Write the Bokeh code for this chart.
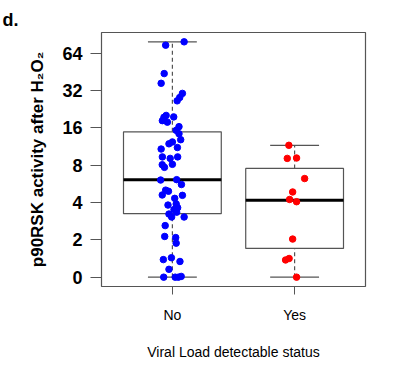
from bokeh.plotting import figure
from bokeh.models import Range1d, FixedTicker, ColumnDataSource, Title
from bokeh.embed import file_html
from bokeh.resources import INLINE

# ---- data (y in axis units: 0 -> "0", 1 -> "2", 2 -> "4", ... 6 -> "64") ----
categories = ["No", "Yes"]
cat_pos = [1, 2]
y_tick_pos = [0, 1, 2, 3, 4, 5, 6]
y_tick_labels = ["0", "2", "4", "8", "16", "32", "64"]

# box statistics
box_low = [0.0, 0.0]
box_q1 = [1.70, 0.77]
box_med = [2.61, 2.06]
box_q3 = [3.89, 2.91]
box_high = [6.30, 3.53]

no_values = [6.21, 6.30, 5.45, 5.19, 4.92, 4.81, 4.72, 4.33, 4.28, 4.19, 4.15, 4.29,
             4.03, 3.93, 3.84, 3.68, 3.62, 3.57, 3.43, 3.47, 3.22, 3.18, 3.22, 3.01,
             2.94, 3.02, 2.60, 2.61, 2.48, 2.33, 2.30, 2.20, 2.19, 2.11, 1.93, 1.96,
             1.86, 1.81, 1.69, 1.74, 1.61, 1.61, 1.38, 1.09, 1.06, 0.91, 0.47, 0.52,
             0.42, 0.21, 0.0, 0.0, 0.0, 0.02]
no_jitter = [-0.055, 0.096, -0.067, -0.092, 0.082, 0.060, 0.039, -0.051, -0.069, -0.082,
             -0.041, 0.011, 0.054, 0.031, 0.054, 0.068, 0.0, -0.028, -0.092, 0.041,
             -0.082, -0.018, 0.043, -0.083, -0.065, 0.0, -0.096, 0.035, 0.074, -0.055,
             -0.032, -0.083, 0.082, 0.019, -0.036, 0.031, 0.043, 0.013, -0.028, 0.035,
             -0.006, 0.096, -0.059, -0.063, 0.027, 0.031, -0.074, -0.008, 0.062, -0.028,
             -0.071, 0.023, 0.049, 0.072]
yes_values = [3.53, 3.18, 3.19, 2.64, 2.28, 2.08, 2.02, 1.02, 0.46, 0.50, 0.0]
yes_jitter = [-0.047, -0.060, 0.016, 0.082, -0.016, -0.041, 0.016, -0.016, -0.074, -0.045, 0.016]

BOX_W = 0.8
CAP_W = 0.4
LINE_COL = "#555555"

p = figure(width=417, height=370, output_backend="svg", toolbar_location=None,
           x_range=Range1d(0.42, 2.58), y_range=Range1d(-0.25, 6.55),
           min_border_left=101, min_border_right=52, min_border_top=32,
           min_border_bottom=84)
p.background_fill_color = "white"
p.border_fill_color = "white"
p.outline_line_color = LINE_COL
p.outline_line_width = 1.2
p.xgrid.grid_line_color = None
p.ygrid.grid_line_color = None

box_src = ColumnDataSource(dict(
    x=cat_pos, low=box_low, q1=box_q1, med=box_med, q3=box_q3, high=box_high,
    left=[c - BOX_W / 2 for c in cat_pos], right=[c + BOX_W / 2 for c in cat_pos],
    cl=[c - CAP_W / 2 for c in cat_pos], cr=[c + CAP_W / 2 for c in cat_pos],
))

# whiskers (dashed)
p.segment(x0="x", y0="q3", x1="x", y1="high", source=box_src,
          line_color=LINE_COL, line_width=1.2, line_dash="4 3")
p.segment(x0="x", y0="low", x1="x", y1="q1", source=box_src,
          line_color=LINE_COL, line_width=1.2, line_dash="4 3")
# caps
p.segment(x0="cl", y0="high", x1="cr", y1="high", source=box_src,
          line_color=LINE_COL, line_width=1.2)
p.segment(x0="cl", y0="low", x1="cr", y1="low", source=box_src,
          line_color=LINE_COL, line_width=1.2)
# boxes
p.quad(left="left", right="right", bottom="q1", top="q3", source=box_src,
       fill_color=None, line_color=LINE_COL, line_width=1.2)
# medians
p.segment(x0="left", y0="med", x1="right", y1="med", source=box_src,
          line_color="black", line_width=3)

# points
p.scatter(x=[cat_pos[0] + j for j in no_jitter], y=no_values, size=6.5,
          fill_color="#0000FF", line_color="#0000FF")
p.scatter(x=[cat_pos[1] + j for j in yes_jitter], y=yes_values, size=6.5,
          fill_color="#FF0000", line_color="#FF0000")

# axes
p.xaxis.ticker = FixedTicker(ticks=cat_pos)
p.xaxis.major_label_overrides = {c: n for c, n in zip(cat_pos, categories)}
p.xaxis.axis_label = "Viral Load detectable status"
p.xaxis.axis_line_color = None
p.xaxis.major_tick_line_color = LINE_COL
p.xaxis.major_tick_out = 8
p.xaxis.major_tick_in = 0
p.xaxis.minor_tick_line_color = None
p.xaxis.major_label_standoff = 12
p.xaxis.major_label_text_font = "Liberation Sans"
p.xaxis.major_label_text_font_size = "14px"
p.xaxis.major_label_text_color = "black"
p.xaxis.axis_label_text_font = "Liberation Sans"
p.xaxis.axis_label_text_font_size = "14px"
p.xaxis.axis_label_text_font_style = "normal"
p.xaxis.axis_label_text_color = "black"
p.xaxis.axis_label_standoff = 18

p.yaxis.ticker = FixedTicker(ticks=y_tick_pos)
p.yaxis.major_label_overrides = {t: l for t, l in zip(y_tick_pos, y_tick_labels)}
p.yaxis.axis_label = "p90RSK activity after H\u2082O\u2082"
p.yaxis.axis_line_color = None
p.yaxis.major_tick_line_color = LINE_COL
p.yaxis.major_tick_out = 11
p.yaxis.major_tick_in = 0
p.yaxis.minor_tick_line_color = None
p.yaxis.major_label_standoff = 8
p.yaxis.major_label_text_font = "Liberation Sans"
p.yaxis.major_label_text_font_size = "18px"
p.yaxis.major_label_text_font_style = "bold"
p.yaxis.major_label_text_color = "black"
p.yaxis.axis_label_text_font = "Liberation Sans"
p.yaxis.axis_label_text_font_size = "17px"
p.yaxis.axis_label_text_font_style = "bold"
p.yaxis.axis_label_text_color = "black"
p.yaxis.axis_label_standoff = 12

# panel letter at the top-left corner
p.add_layout(Title(text="d.", align="left", offset=-99, text_font="Liberation Sans",
                   text_font_size="18px", text_font_style="bold", text_color="black",
                   standoff=6), "above")

open("out.html", "w").write(file_html(p, INLINE))
